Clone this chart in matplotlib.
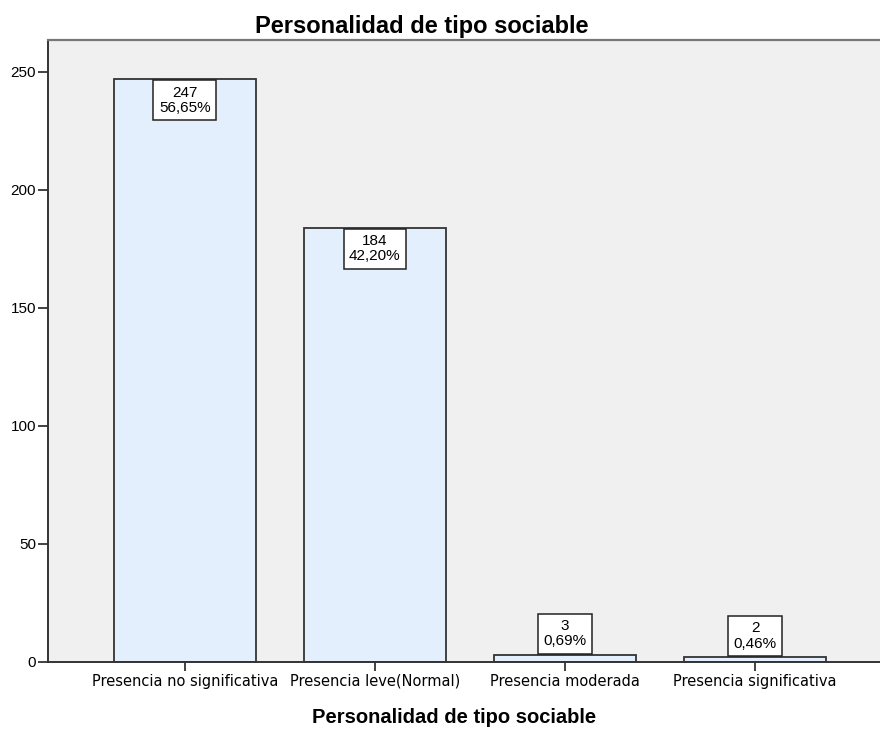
import matplotlib
matplotlib.use("Agg")
import matplotlib.pyplot as plt

# === Data ===
categories = ["Presencia no significativa", "Presencia leve(Normal)",
              "Presencia moderada", "Presencia significativa"]
counts = [247, 184, 3, 2]
percents = ["56,65%", "42,20%", "0,69%", "0,46%"]
yticks = [0, 50, 100, 150, 200, 250]
title = "Personalidad de tipo sociable"

plt.rcParams['font.family'] = ['Liberation Sans', 'DejaVu Sans']

fig = plt.figure(figsize=(8.8, 7.29), dpi=100)
# axes runs past the right edge of the figure
ax = fig.add_axes([0.0545, 0.092, 0.959, 0.853])
ax.set_facecolor('#F0F0F0')

x = range(len(categories))
ax.bar(x, counts, width=0.75, color='#E3EFFD', edgecolor='#333333', linewidth=1.3)

ax.set_xlim(-0.72, 3.72)
ax.set_ylim(0, 263.5)
ax.set_yticks(yticks)
ax.set_yticklabels([str(v) for v in yticks], fontsize=11)
ax.set_xticks(list(x))
ax.set_xticklabels(categories, fontsize=10.5, family='DejaVu Sans')
ax.tick_params(axis='y', direction='out', length=7, width=1.3, color='#333333', pad=1.5)
ax.tick_params(axis='x', direction='out', length=6.5, width=1.3, color='#333333', pad=2)

for side in ['left', 'bottom']:
    ax.spines[side].set_color('#333333')
    ax.spines[side].set_linewidth(1.4)
ax.spines['top'].set_color('#777777')
ax.spines['top'].set_linewidth(1.6)
ax.spines['right'].set_visible(False)

# count / percent boxes
pad = 4
for i, (c, p) in enumerate(zip(counts, percents)):
    label = f"{c}\n{p}"
    if c > 20:
        offset, va = -pad - 0.8, 'top'
    else:
        offset, va = pad + 0.8, 'bottom'
    ax.annotate(label, (i, c), xytext=(0, offset), textcoords='offset points',
                ha='center', va=va, fontsize=11, linespacing=1.1,
                bbox=dict(boxstyle=f'square,pad={pad / 11:.3f}', facecolor='white',
                          edgecolor='#222222', linewidth=1.1))

fig.text(422 / 880, 1 - 33 / 729, title, ha='center', va='baseline',
         fontsize=17, fontweight='bold')
fig.text(454 / 880, 1 - 723 / 729, title, ha='center', va='baseline',
         fontsize=14.5, fontweight='bold')

fig.savefig("out.png", dpi=100)
